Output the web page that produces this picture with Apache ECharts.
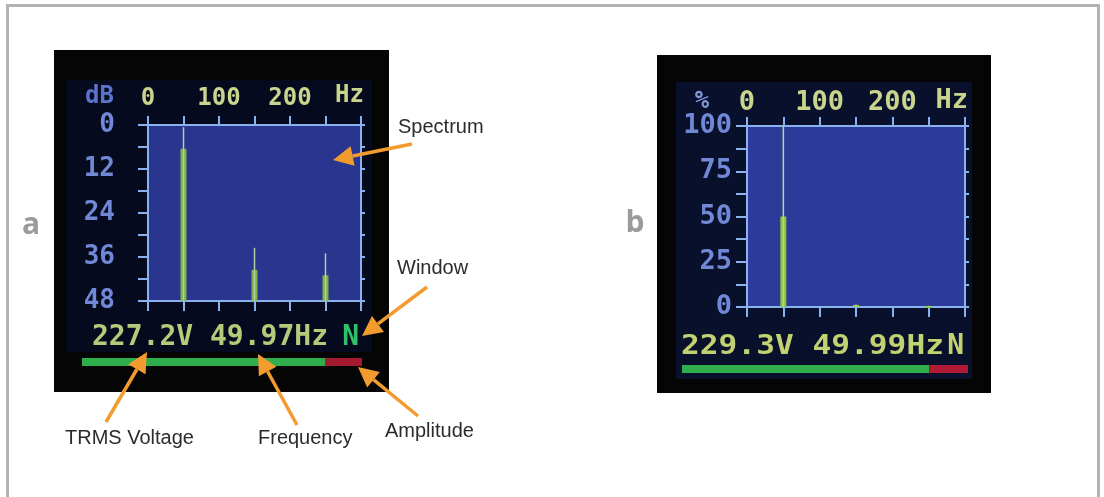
<!DOCTYPE html>
<html><head><meta charset="utf-8">
<script src="https://cdn.jsdelivr.net/npm/echarts@6/dist/echarts.min.js"></script>
<style>html,body{margin:0;padding:0;background:#fff}#c{width:1104px;height:497px}</style>
</head><body><div id="c"></div>
<script>
// ---------- data ----------
const freqMin = 0, freqMax = 300, freqStep = 50;
const freqLabels = [0, 100, 200];
const harmonicFreqs = [50, 150, 250];
// panel a: attenuation in dB (0 at top)
const dbMin = 0, dbMax = 48, dbStep = 6;
const dbLabels = [0, 12, 24, 36, 48];
const dbBarTop = [6.5, 39.5, 41];
const dbPeak = [0.6, 33.5, 35];
// panel b: relative amplitude in %
const pctMin = 0, pctMax = 100, pctStep = 12.5;
const pctLabels = [0, 25, 50, 75, 100];
const pctBarTop = [50, 1.2, 0.6];
const pctPeak = [100, 1.2, 0.6];
// readouts and amplitude bars
const readoutA = ['227.2V 49.97Hz', 'N'];
const readoutB = ['229.3V 49.99Hz', 'N'];
const amplitudeA = [87, 13];
const amplitudeB = [86.5, 13.5];
const panelLetters = ['a', 'b'];
const annotations = ['Spectrum', 'Window', 'TRMS Voltage', 'Frequency', 'Amplitude'];

// ---------- styles ----------
const MONO = '"DejaVu Sans Mono", monospace';
const AXIS_COL = '#8ab2ee';
const TOP_LBL = '#c9d48c';
const Y_LBL = '#7088d6';
const ORANGE = '#f29b2f';

const chart = echarts.init(document.getElementById('c'));

function spectrumRender(base, thinColor, barColor) {
  return function (params, api) {
    const f = api.value(0);
    const pb = api.coord([f, base]);
    const pt = api.coord([f, api.value(1)]);
    const pp = api.coord([f, api.value(2)]);
    return {
      type: 'group',
      children: [
        { type: 'rect', shape: { x: pb[0] - 3, y: Math.min(pb[1], pt[1]), width: 6, height: Math.max(2, Math.abs(pb[1] - pt[1])) }, style: { fill: barColor } },
        { type: 'line', shape: { x1: pb[0], y1: pb[1], x2: pp[0], y2: pp[1] }, style: { stroke: thinColor, lineWidth: 1.5 } }
      ]
    };
  };
}

function xAxes(grid, topFont, topMargin, topTick, botTick) {
  const common = {
    gridIndex: grid, type: 'value', min: freqMin, max: freqMax, interval: freqStep,
    axisLine: { show: true, onZero: false, lineStyle: { color: AXIS_COL, width: 2 } },
    splitLine: { show: false }
  };
  return [
    Object.assign({}, common, {
      position: 'top',
      axisTick: { show: true, length: topTick, lineStyle: { color: AXIS_COL, width: 2 } },
      axisLabel: { show: true, margin: topMargin, color: TOP_LBL, fontFamily: MONO, fontWeight: 'bold', fontSize: topFont,
        formatter: v => freqLabels.includes(v) ? String(v) : '' }
    }),
    Object.assign({}, common, {
      position: 'bottom',
      axisTick: { show: true, length: botTick, lineStyle: { color: AXIS_COL, width: 2 } },
      axisLabel: { show: false }
    })
  ];
}

function yAxes(grid, min, max, step, labels, inverse, font, margin, leftTick) {
  const common = {
    gridIndex: grid, type: 'value', min: min, max: max, interval: step, inverse: inverse,
    axisLine: { show: true, onZero: false, lineStyle: { color: AXIS_COL, width: 2 } },
    splitLine: { show: false }
  };
  return [
    Object.assign({}, common, {
      position: 'left',
      axisTick: { show: true, length: leftTick, lineStyle: { color: AXIS_COL, width: 2 } },
      axisLabel: { show: true, margin: margin, color: Y_LBL, fontFamily: MONO, fontWeight: 'bold', fontSize: font,
        formatter: v => labels.includes(v) ? String(v) : '' }
    }),
    Object.assign({}, common, {
      position: 'right',
      axisTick: { show: true, length: 4, lineStyle: { color: AXIS_COL, width: 2 } },
      axisLabel: { show: false }
    })
  ];
}

function arrow(x1, y1, x2, y2) {
  const a = Math.atan2(y2 - y1, x2 - x1), L = 20, W = 10;
  const bx = x2 - L * Math.cos(a), by = y2 - L * Math.sin(a);
  const px = -Math.sin(a) * W, py = Math.cos(a) * W;
  return [
    { type: 'line', z: 100, shape: { x1: x1, y1: y1, x2: bx, y2: by }, style: { stroke: ORANGE, lineWidth: 3.5 } },
    { type: 'polygon', z: 100, shape: { points: [[x2, y2], [bx + px, by + py], [bx - px, by - py]] }, style: { fill: ORANGE } }
  ];
}

const dataA = harmonicFreqs.map((f, i) => [f, dbBarTop[i], dbPeak[i]]);
const dataB = harmonicFreqs.map((f, i) => [f, pctBarTop[i], pctPeak[i]]);

const annoStyle = { fill: '#2b2b2b', font: '20px "Liberation Sans", Arial, sans-serif', textVerticalAlign: 'middle' };

const graphics = [
  { type: 'rect', z: -20, shape: { x: 7.5, y: 5.5, width: 1091, height: 600 }, style: { fill: '#fff', stroke: '#b3b3b3', lineWidth: 3 } },
  // bezels and screens
  { type: 'rect', z: -15, shape: { x: 54, y: 50, width: 335, height: 342 }, style: { fill: '#050505' } },
  { type: 'rect', z: -14, shape: { x: 66, y: 80, width: 306, height: 272 }, style: { fill: '#060a1e' } },
  { type: 'rect', z: -15, shape: { x: 657, y: 55, width: 334, height: 338 }, style: { fill: '#050505' } },
  { type: 'rect', z: -14, shape: { x: 676, y: 82, width: 296, height: 297 }, style: { fill: '#09102c' } },
  // panel letters
  { type: 'text', x: 31, y: 225, style: { text: panelLetters[0], fill: '#9b9b9b', font: 'bold 30px "Open Sans", sans-serif', textAlign: 'center', textVerticalAlign: 'middle' } },
  { type: 'text', x: 635, y: 223, style: { text: panelLetters[1], fill: '#9b9b9b', font: 'bold 30px "Open Sans", sans-serif', textAlign: 'center', textVerticalAlign: 'middle' } },
  // unit labels
  { type: 'text', x: 114, y: 97, style: { text: 'dB', fill: '#5a74cc', font: 'bold 24px ' + MONO, textAlign: 'right', textVerticalAlign: 'middle' } },
  { type: 'text', x: 364, y: 96, style: { text: 'Hz', fill: TOP_LBL, font: 'bold 24px ' + MONO, textAlign: 'right', textVerticalAlign: 'middle' } },
  { type: 'text', x: 702, y: 102, style: { text: '%', fill: '#7f96d8', font: 'bold 24px ' + MONO, textAlign: 'center', textVerticalAlign: 'middle' } },
  { type: 'text', x: 968, y: 101, style: { text: 'Hz', fill: TOP_LBL, font: 'bold 27px ' + MONO, textAlign: 'right', textVerticalAlign: 'middle' } },
  // readouts
  { type: 'text', x: 92, y: 338, style: { text: readoutA[0], fill: '#b9c97a', font: 'bold 28px ' + MONO, textVerticalAlign: 'middle' } },
  { type: 'text', x: 359, y: 338, style: { text: readoutA[1], fill: '#2fbf6a', font: 'bold 28px ' + MONO, textAlign: 'right', textVerticalAlign: 'middle' } },
  { type: 'text', x: 681, y: 347, scaleX: 1.2, style: { text: readoutB[0], fill: '#c2d270', font: 'bold 26px ' + MONO, textVerticalAlign: 'middle' } },
  { type: 'text', x: 964, y: 347, style: { text: readoutB[1], fill: '#c2d270', font: 'bold 28px ' + MONO, textAlign: 'right', textVerticalAlign: 'middle' } },
  // annotations
  { type: 'text', x: 398, y: 127, style: Object.assign({ text: annotations[0] }, annoStyle) },
  { type: 'text', x: 397, y: 268, style: Object.assign({ text: annotations[1] }, annoStyle) },
  { type: 'text', x: 65, y: 438, style: Object.assign({ text: annotations[2] }, annoStyle) },
  { type: 'text', x: 258, y: 438, style: Object.assign({ text: annotations[3] }, annoStyle) },
  { type: 'text', x: 385, y: 431, style: Object.assign({ text: annotations[4] }, annoStyle) }
].concat(
  arrow(412, 144, 333, 160),
  arrow(427, 287, 362, 336),
  arrow(106, 422, 147, 352),
  arrow(297, 425, 258, 354),
  arrow(418, 416, 358, 367)
);

const option = {
  animation: false,
  backgroundColor: '#ffffff',
  grid: [
    { left: 148, top: 125, width: 213, height: 176, show: true, backgroundColor: '#2a3590', borderWidth: 0 },
    { left: 747, top: 126, width: 218, height: 181, show: true, backgroundColor: '#2c3a9a', borderWidth: 0 },
    { left: 82, top: 358, width: 280, height: 8 },
    { left: 682, top: 365, width: 286, height: 8 }
  ],
  xAxis: [].concat(
    xAxes(0, 24, 14, 9, 10),
    xAxes(1, 27, 10, 9, 10),
    [{ gridIndex: 2, type: 'value', min: 0, max: 100, show: false },
     { gridIndex: 3, type: 'value', min: 0, max: 100, show: false }]
  ),
  yAxis: [].concat(
    yAxes(0, dbMin, dbMax, dbStep, dbLabels, true, 26, 33, 10),
    yAxes(1, pctMin, pctMax, pctStep, pctLabels, false, 27, 15, 11),
    [{ gridIndex: 2, type: 'category', data: ['amp'], show: false },
     { gridIndex: 3, type: 'category', data: ['amp'], show: false }]
  ),
  series: [
    { type: 'custom', xAxisIndex: 0, yAxisIndex: 0, renderItem: spectrumRender(dbMax, '#b4cfa6', '#7cb545'), data: dataA, encode: { x: 0, y: [1, 2] }, clip: false },
    { type: 'custom', xAxisIndex: 2, yAxisIndex: 2, renderItem: spectrumRender(pctMin, '#a6e27a', '#8fc63c'), data: dataB, encode: { x: 0, y: [1, 2] }, clip: false },
    { type: 'bar', xAxisIndex: 4, yAxisIndex: 4, stack: 'a', barWidth: 8, data: [amplitudeA[0]], itemStyle: { color: '#2fae4c' } },
    { type: 'bar', xAxisIndex: 4, yAxisIndex: 4, stack: 'a', barWidth: 8, data: [amplitudeA[1]], itemStyle: { color: '#a31a2e' } },
    { type: 'bar', xAxisIndex: 5, yAxisIndex: 5, stack: 'b', barWidth: 8, data: [amplitudeB[0]], itemStyle: { color: '#2fae4c' } },
    { type: 'bar', xAxisIndex: 5, yAxisIndex: 5, stack: 'b', barWidth: 8, data: [amplitudeB[1]], itemStyle: { color: '#b01a34' } }
  ],
  graphic: { elements: graphics }
};
chart.setOption(option);
</script>
</body></html>
